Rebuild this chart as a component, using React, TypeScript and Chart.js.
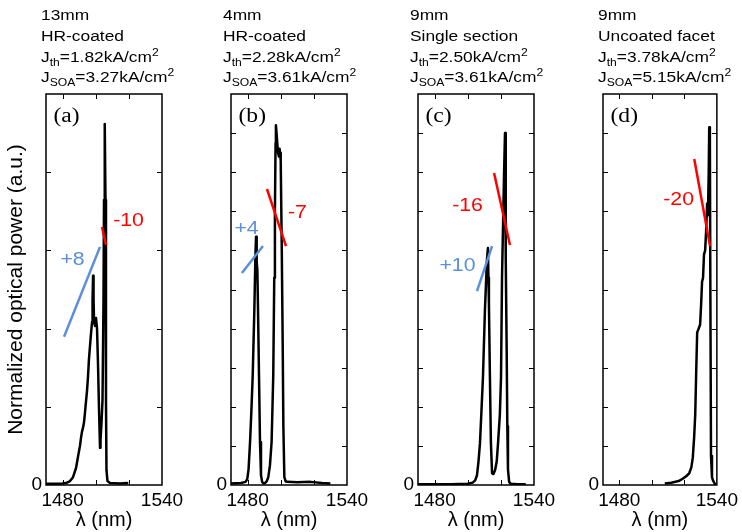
import { useEffect, useRef } from 'react';
import { Chart, registerables } from 'chart.js';

Chart.register(...registerables);

const SANS = '"Liberation Sans", Arial, Helvetica, sans-serif';
const SERIF = '"Liberation Serif", "Times New Roman", serif';
const BLUE = '#5B8FD9';
const RED = '#FF0000';
const BLACK = '#000000';

// ---------- axes ----------
const X_MIN = 1470;
const X_MAX = 1540;
const xTickValues = [1480, 1500, 1520, 1540];
const xTickLabels = [1480, 1540];
const yTicksCoarse = [0, 0.2, 0.4, 0.6, 0.8, 1.0];
const yTicksFine = [0, 0.1, 0.2, 0.3, 0.4, 0.5, 0.6, 0.7, 0.8, 0.9, 1.0];
const xTitle = 'λ (nm)';
const yTitle = 'Normalized optical power (a.u.)';

// ---------- panel (a) ----------
const headerA = ['13mm', 'HR-coated', 'J_{th}=1.82kA/cm^{2}', 'J_{SOA}=3.27kA/cm^{2}'];
const waveA = [1470, 1475.4, 1479.7, 1482.1, 1484.5, 1486.3, 1488.1, 1489.3, 1490.5, 1491.1, 1491.7, 1492.3, 1492.9, 1493.5, 1494.1, 1494.7, 1495.3, 1495.9, 1496.6, 1497.2, 1497.8, 1498.1, 1498.4, 1498.7, 1499.0, 1499.6, 1500.2, 1500.8, 1501.4, 1502.0, 1502.6, 1502.9, 1503.5, 1504.1, 1504.7, 1505.0, 1505.3, 1505.6, 1505.9, 1506.2, 1506.5, 1507.1, 1508.6, 1514.7, 1518.9, 1519.5];
const powerA = [0.003, 0.003, 0.004, 0.005, 0.01, 0.02, 0.043, 0.072, 0.10, 0.12, 0.136, 0.146, 0.159, 0.184, 0.212, 0.238, 0.274, 0.32, 0.358, 0.389, 0.417, 0.473, 0.535, 0.473, 0.417, 0.407, 0.427, 0.40, 0.307, 0.192, 0.095, 0.115, 0.16, 0.217, 0.473, 0.729, 0.923, 0.923, 0.729, 0.217, 0.038, 0.01, 0.005, 0.004, 0.005, 0.003];
const blueWaveA = [1480.9, 1502.6];
const bluePowerA = [0.379, 0.609];
const redWaveA = [1503.8, 1506.2];
const redPowerA = [0.66, 0.614];
const noteTextA = ['+8', '-10'];
const noteWaveA = [1486.0, 1519.8];
const notePowerA = [0.575, 0.676];
const noteColorA = [BLUE, RED];

// ---------- panel (b) ----------
const headerB = ['4mm', 'HR-coated', 'J_{th}=2.28kA/cm^{2}', 'J_{SOA}=3.61kA/cm^{2}'];
const waveB = [1470, 1476, 1478.8, 1479.8, 1480.6, 1481.5, 1482.3, 1483.1, 1484.1, 1484.7, 1485.1, 1485.5, 1485.9, 1486.3, 1486.9, 1487.5, 1488.1, 1488.8, 1489.6, 1490.6, 1491.6, 1492.5, 1493.5, 1494.5, 1495.5, 1496.1, 1496.5, 1496.9, 1497.1, 1497.5, 1497.9, 1498.4, 1498.9, 1499.3, 1499.6, 1500.0, 1500.6, 1501.2, 1501.6, 1502.2, 1503.0, 1504.0, 1510.0, 1518.0, 1525.0, 1530.0];
const powerB = [0.004, 0.005, 0.008, 0.015, 0.04, 0.11, 0.19, 0.28, 0.45, 0.58, 0.635, 0.57, 0.55, 0.45, 0.28, 0.11, 0.025, 0.008, 0.004, 0.005, 0.01, 0.02, 0.05, 0.11, 0.28, 0.53, 0.70, 0.875, 0.92, 0.90, 0.875, 0.85, 0.84, 0.86, 0.85, 0.83, 0.62, 0.36, 0.15, 0.02, 0.009, 0.008, 0.007, 0.008, 0.005, 0.004];
const blueWaveB = [1476.6, 1489.3];
const bluePowerB = [0.542, 0.611];
const redWaveB = [1491.7, 1503.2];
const redPowerB = [0.757, 0.611];
const noteTextB = ['+4', '-7'];
const noteWaveB = [1479.4, 1510.1];
const notePowerB = [0.655, 0.697];
const noteColorB = [BLUE, RED];

// ---------- panel (c) ----------
const headerC = ['9mm', 'Single section', 'J_{th}=2.50kA/cm^{2}', 'J_{SOA}=3.61kA/cm^{2}'];
const waveC = [1470, 1490, 1500, 1503, 1504.5, 1505.6, 1506.5, 1507.4, 1508.3, 1509.2, 1510.4, 1511.6, 1512.2, 1512.5, 1512.8, 1513.4, 1514.0, 1514.7, 1515.5, 1516.5, 1517.5, 1518.3, 1519.4, 1520.1, 1520.7, 1521.3, 1521.9, 1522.5, 1522.8, 1523.1, 1523.5, 1523.9, 1524.3, 1525.0, 1526.0, 1530.0, 1535.0];
const powerC = [0.002, 0.002, 0.003, 0.006, 0.012, 0.025, 0.06, 0.107, 0.19, 0.276, 0.448, 0.575, 0.606, 0.53, 0.465, 0.276, 0.107, 0.03, 0.028, 0.038, 0.06, 0.107, 0.18, 0.276, 0.53, 0.66, 0.79, 0.90, 0.75, 0.58, 0.35, 0.15, 0.04, 0.008, 0.003, 0.002, 0.002];
const blueWaveC = [1505.6, 1514.7];
const bluePowerC = [0.496, 0.611];
const redWaveC = [1515.9, 1525.5];
const redPowerC = [0.798, 0.614];
const noteTextC = ['+10', '-16'];
const noteWaveC = [1493.8, 1499.9];
const notePowerC = [0.561, 0.715];
const noteColorC = [BLUE, RED];

// ---------- panel (d) ----------
const headerD = ['9mm', 'Uncoated facet', 'J_{th}=3.78kA/cm^{2}', 'J_{SOA}=5.15kA/cm^{2}'];
const waveD = [1508, 1512, 1516.5, 1519, 1521.3, 1523, 1524.3, 1525.2, 1526, 1526.7, 1527.3, 1527.9, 1528.8, 1529.7, 1530.3, 1530.9, 1531.5, 1532.1, 1532.8, 1533.4, 1534.0, 1534.5, 1535.0, 1535.3, 1535.7, 1536.0, 1536.4, 1537.0, 1537.6, 1538.8, 1539.5];
const powerD = [0.004, 0.006, 0.01, 0.016, 0.023, 0.03, 0.045, 0.07, 0.12, 0.18, 0.29, 0.39, 0.40, 0.41, 0.46, 0.52, 0.53, 0.59, 0.60, 0.65, 0.72, 0.69, 0.80, 0.915, 0.89, 0.5, 0.074, 0.02, 0.012, 0.003, 0.002];
const blueWaveD: number[] = [];
const bluePowerD: number[] = [];
const redWaveD = [1526.1, 1535.8];
const redPowerD = [0.834, 0.611];
const noteTextD = ['-20'];
const noteWaveD = [1516.5];
const notePowerD = [0.73];
const noteColorD = [RED];

// ---------- layout (pixels) ----------
const W = 742;
const H = 532;
const PANEL_LEFT = [46, 231, 418, 603];
const PANEL_WIDTH = 116;
const PANEL_TOP = 94;
const PANEL_BOTTOM = 485;
const HEADER_X = [41, 223, 410, 598];
const HEADER_BASELINES = [19.5, 40.5, 61.5, 82];

const panels = [
  { tag: '(a)', header: headerA, wave: waveA, power: powerA, blueWave: blueWaveA, bluePower: bluePowerA, redWave: redWaveA, redPower: redPowerA, noteText: noteTextA, noteWave: noteWaveA, notePower: notePowerA, noteColor: noteColorA, yTicks: yTicksCoarse },
  { tag: '(b)', header: headerB, wave: waveB, power: powerB, blueWave: blueWaveB, bluePower: bluePowerB, redWave: redWaveB, redPower: redPowerB, noteText: noteTextB, noteWave: noteWaveB, notePower: notePowerB, noteColor: noteColorB, yTicks: yTicksFine },
  { tag: '(c)', header: headerC, wave: waveC, power: powerC, blueWave: blueWaveC, bluePower: bluePowerC, redWave: redWaveC, redPower: redPowerC, noteText: noteTextC, noteWave: noteWaveC, notePower: notePowerC, noteColor: noteColorC, yTicks: yTicksFine },
  { tag: '(d)', header: headerD, wave: waveD, power: powerD, blueWave: blueWaveD, bluePower: bluePowerD, redWave: redWaveD, redPower: redPowerD, noteText: noteTextD, noteWave: noteWaveD, notePower: notePowerD, noteColor: noteColorD, yTicks: yTicksFine },
];

const zip = (xs: number[], ys: number[]) => xs.map((x, i) => ({ x, y: ys[i] }));

function parseRich(s: string) {
  const out: { t: string; k: number }[] = [];
  let i = 0;
  let buf = '';
  while (i < s.length) {
    const c = s[i];
    if ((c === '_' || c === '^') && s[i + 1] === '{') {
      if (buf) { out.push({ t: buf, k: 0 }); buf = ''; }
      const end = s.indexOf('}', i);
      out.push({ t: s.slice(i + 2, end), k: c === '_' ? 1 : 2 });
      i = end + 1;
    } else {
      buf += c;
      i++;
    }
  }
  if (buf) out.push({ t: buf, k: 0 });
  return out;
}

function drawRich(ctx: CanvasRenderingContext2D, s: string, x: number, y: number, size: number, sx: number) {
  ctx.save();
  ctx.translate(x, y);
  ctx.scale(sx, 1);
  ctx.textAlign = 'left';
  ctx.textBaseline = 'alphabetic';
  ctx.fillStyle = BLACK;
  let cx = 0;
  for (const p of parseRich(s)) {
    const fs = p.k ? size * 0.7 : size;
    const dy = p.k === 1 ? size * 0.28 : p.k === 2 ? -size * 0.37 : 0;
    ctx.font = `${fs}px ${SANS}`;
    ctx.fillText(p.t, cx, dy);
    cx += ctx.measureText(p.t).width;
  }
  ctx.restore();
}

function makePlugin(p: any, idx: number) {
  return {
    id: 'panelDecor' + idx,
    afterDraw(chart: any) {
      const ctx: CanvasRenderingContext2D = chart.ctx;
      const { left, right, top, bottom } = chart.chartArea;
      const xs = chart.scales.x;
      const ys = chart.scales.y;
      ctx.save();
      // frame
      ctx.strokeStyle = BLACK;
      ctx.lineWidth = 1.5;
      ctx.strokeRect(left, top, right - left, bottom - top);
      // inward ticks
      ctx.lineWidth = 1;
      ctx.beginPath();
      for (const t of xs.ticks) {
        if (t.value <= X_MIN || t.value >= X_MAX) continue;
        const px = Math.round(xs.getPixelForValue(t.value)) + 0.5;
        ctx.moveTo(px, bottom); ctx.lineTo(px, bottom - 5);
        ctx.moveTo(px, top); ctx.lineTo(px, top + 5);
      }
      for (const t of ys.ticks) {
        if (t.value <= 0 || t.value >= 1) continue;
        const py = Math.round(ys.getPixelForValue(t.value)) + 0.5;
        ctx.moveTo(left, py); ctx.lineTo(left + 5, py);
        ctx.moveTo(right, py); ctx.lineTo(right - 5, py);
      }
      ctx.stroke();
      // panel tag
      ctx.save();
      ctx.translate(left + 7.5, top + 22.5);
      ctx.scale(1.15, 1);
      ctx.font = `20.5px ${SERIF}`;
      ctx.fillStyle = BLACK;
      ctx.textAlign = 'left';
      ctx.textBaseline = 'middle';
      ctx.fillText(p.tag, 0, 0);
      ctx.restore();
      // slope notes
      p.noteText.forEach((t: string, i: number) => {
        const px = xs.getPixelForValue(p.noteWave[i]);
        const py = ys.getPixelForValue(p.notePower[i]);
        ctx.save();
        ctx.translate(px, py);
        ctx.scale(1.15, 1);
        ctx.font = `18.5px ${SANS}`;
        ctx.fillStyle = p.noteColor[i];
        ctx.textAlign = 'center';
        ctx.textBaseline = 'middle';
        ctx.fillText(t, 0, 0);
        ctx.restore();
      });
      // header
      p.header.forEach((line: string, i: number) => {
        drawRich(ctx, line, HEADER_X[idx], HEADER_BASELINES[i], 15.5, 1.12);
      });
      ctx.restore();
    },
  };
}

function makeConfig(p: any, idx: number): any {
  const left = PANEL_LEFT[idx];
  const yAxisW = idx === 0 ? 42 : 24;
  return {
    type: 'line',
    data: {
      datasets: [
        { data: zip(p.blueWave, p.bluePower), borderColor: BLUE, borderWidth: 2.5, pointRadius: 0, tension: 0, order: 0, fill: false },
        { data: zip(p.redWave, p.redPower), borderColor: RED, borderWidth: 2.5, pointRadius: 0, tension: 0, order: 0, fill: false },
        { data: zip(p.wave, p.power), borderColor: BLACK, borderWidth: 2.5, pointRadius: 0, tension: 0, order: 1, fill: false, borderJoinStyle: 'round' },
      ],
    },
    options: {
      responsive: false,
      animation: false,
      events: [],
      layout: {
        padding: { left: left - yAxisW, top: PANEL_TOP, right: W - left - PANEL_WIDTH, bottom: 0 },
      },
      plugins: { legend: { display: false }, tooltip: { enabled: false }, title: { display: false } },
      scales: {
        x: {
          type: 'linear',
          min: X_MIN,
          max: X_MAX,
          afterBuildTicks: (s: any) => { s.ticks = xTickValues.map((v) => ({ value: v })); },
          afterFit: (s: any) => { s.height = H - PANEL_BOTTOM; },
          ticks: {
            callback: (v: any) => (xTickLabels.includes(v) ? String(v) : ''),
            font: { family: SANS, size: 19 },
            color: BLACK,
            padding: 4,
            maxRotation: 0,
            autoSkip: false,
          },
          grid: { display: false, drawTicks: false },
          border: { display: false },
          title: { display: true, text: xTitle, font: { family: SANS, size: 20 }, color: BLACK, padding: 0 },
        },
        y: {
          type: 'linear',
          min: 0,
          max: 1,
          afterBuildTicks: (s: any) => { s.ticks = p.yTicks.map((v: number) => ({ value: v })); },
          afterFit: (s: any) => { s.width = yAxisW; },
          ticks: {
            callback: (v: any) => (v === 0 ? '0' : ''),
            font: { family: SANS, size: 19 },
            color: BLACK,
            padding: 4,
            autoSkip: false,
          },
          grid: { display: false, drawTicks: false },
          border: { display: false },
          title: idx === 0
            ? { display: true, text: yTitle, font: { family: SANS, size: 21 }, color: BLACK, padding: 0 }
            : { display: false },
        },
      },
    },
    plugins: [makePlugin(p, idx)],
  };
}

function Panel({ idx }: { idx: number }) {
  const ref = useRef<HTMLCanvasElement | null>(null);
  useEffect(() => {
    if (!ref.current) return;
    const chart = new Chart(ref.current, makeConfig(panels[idx], idx));
    return () => chart.destroy();
  }, [idx]);
  return (
    <canvas
      ref={ref}
      width={W}
      height={H}
      style={{ position: 'absolute', left: 0, top: 0, width: W, height: H }}
    />
  );
}

export default function App() {
  return (
    <div style={{ position: 'fixed', left: 0, top: 0, width: W, height: H, background: '#ffffff', overflow: 'hidden' }}>
      {panels.map((_, i) => (
        <Panel key={i} idx={i} />
      ))}
    </div>
  );
}
